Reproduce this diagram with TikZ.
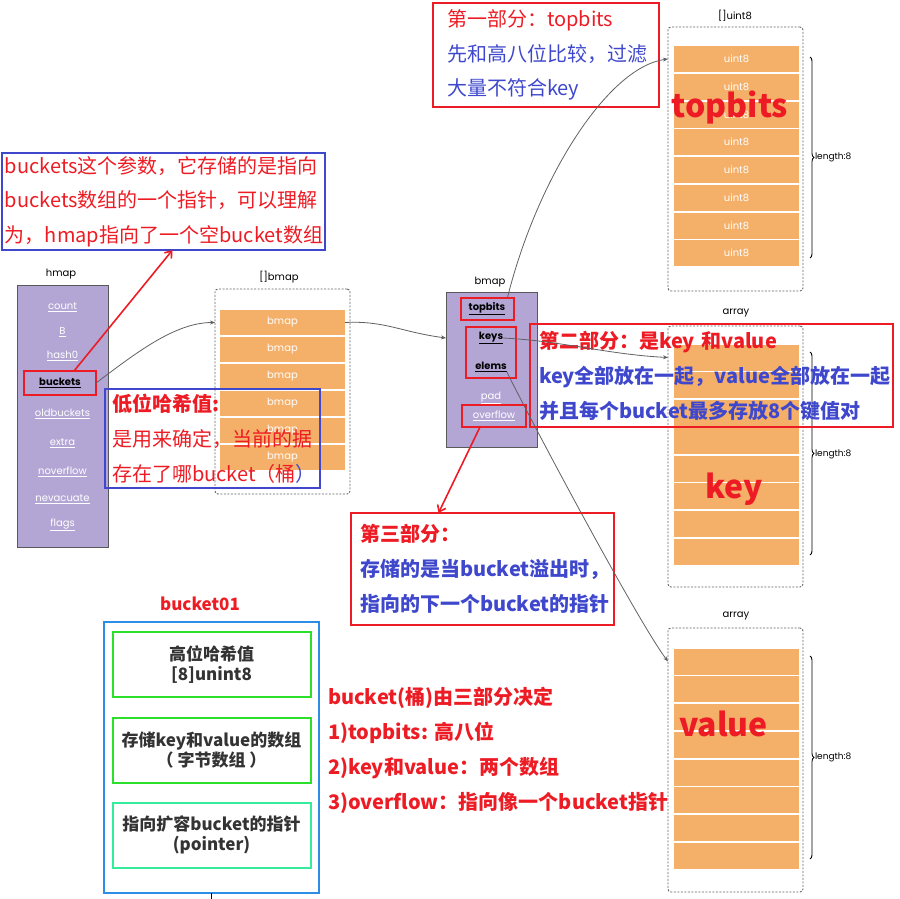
\documentclass[tikz,border=0pt]{standalone}
\usepackage{fontspec}
\setmainfont{Noto Sans CJK SC}
\newfontfamily\lblfont{Poppins}
\usetikzlibrary{arrows.meta,decorations.pathreplacing}
\definecolor{lav}{HTML}{B3A6D5}
\definecolor{ora}{HTML}{F4AF69}
\definecolor{hired}{HTML}{ED1C24}
\definecolor{hiblue}{HTML}{3F48CC}
\definecolor{skyblue}{HTML}{2C8DE4}
\definecolor{grn}{HTML}{2BE02B}
\definecolor{mint}{HTML}{33EC9C}
\definecolor{linkgray}{HTML}{606060}
\begin{document}
\begin{tikzpicture}[x=1pt, y=-1pt, every node/.style={inner sep=0pt, outer sep=0pt}]
	\tikzstyle{tag}=[font=\lblfont\fontsize{10}{12}\selectfont]
	\tikzstyle{box}=[draw=black!65, line width=0.8pt, fill=lav, minimum width=91pt, anchor=north west]
	\tikzstyle{field}=[font=\lblfont\fontsize{10}{12}\selectfont, text=white]
	\tikzstyle{bfield}=[font=\lblfont\bfseries\fontsize{10}{12}\selectfont, text=black]
	\tikzstyle{holder}=[draw=black!60, line width=0.9pt, dash pattern=on 2pt off 1.5pt, rounded corners=3pt, minimum width=135pt, anchor=north west]
	\tikzstyle{cell}=[fill=ora, minimum width=125pt, minimum height=26pt, text=white, font=\lblfont\fontsize{10}{12}\selectfont]
	\tikzstyle{hl}=[draw=hired, line width=2pt]
	\tikzstyle{big}=[text=hired, font=\bfseries\fontsize{32}{32}\selectfont]
	\tikzstyle{note}=[draw, line width=2pt, align=left, anchor=north west, font=\fontsize{20}{34.5}\selectfont]
	\tikzstyle{slot}=[line width=2pt, minimum width=198pt, minimum height=65pt, align=center, text=black!80, font=\bfseries\fontsize{17}{20}\selectfont]
	\tikzstyle{link}=[draw=linkgray, line width=0.8pt, -{Stealth[length=5pt,width=4pt]}]
	\tikzstyle{redlink}=[draw=hired, line width=1.6pt, -{Straight Barb[length=6pt,width=9pt]}]
	\useasboundingbox (0,0) rectangle (900,899);

	% hmap
	\node[tag] (hmaplbl) at (61,274) {hmap};
	\node[box, minimum height=262pt] (hmap) at (17,285) {};
	\node[field] (hcount) at (62.5,307) {\underline{count}};
	\node[field] (hb) at (62.5,332) {\underline{B}};
	\node[field] (hhash) at (62.5,356) {\underline{hash0}};
	\node[bfield, hl, minimum width=72pt, minimum height=24pt] (hbk) at (60,383) {\underline{buckets}};
	\node[field] (hold) at (62.5,414) {\underline{oldbuckets}};
	\node[field] (hextra) at (62.5,443) {\underline{extra}};
	\node[field] (hnover) at (62.5,472) {\underline{noverflow}};
	\node[field] (hnevac) at (62.5,499) {\underline{nevacuate}};
	\node[field] (hflags) at (62.5,525) {\underline{flags}};

	% []bmap
	\node[tag] (bholdlbl) at (279,277) {[]bmap};
	\node[holder, minimum height=205pt] (bhold) at (215,289) {};
	\foreach \i in {0,...,5}
		\node[cell, minimum height=25pt] (bm\i) at (282.5,322.5+27*\i) {bmap};

	% bmap
	\node[tag] (bmaplbl) at (490,282) {bmap};
	\node[box, minimum height=155pt] (bmap) at (446,292) {};
	\node[bfield, hl, minimum width=53pt, minimum height=22pt] (btop) at (487,308.5) {\underline{topbits}};
	\node[bfield] (bkeys) at (491,338) {\underline{keys}};
	\node[bfield] (belems) at (491,367) {\underline{elems}};
	\node[hl, minimum width=50pt, minimum height=51pt] (bke) at (491,352.5) {};
	\node[field] (bpad) at (491,398) {\underline{pad}};
	\node[field, hl, minimum width=64pt, minimum height=22pt] (bov) at (494,416) {\underline{overflow}};

	% []uint8, array, array
	\node[tag] (uholdlbl) at (735,16) {[]uint8};
	\node[holder, minimum height=264pt] (uhold) at (668,27) {};
	\node[tag] (kholdlbl) at (736,313) {array};
	\node[holder, minimum height=261pt] (khold) at (668,326) {};
	\node[tag] (vholdlbl) at (736,616) {array};
	\node[holder, minimum height=264pt] (vhold) at (668,628) {};
	\foreach \i in {0,...,7} {
		\node[cell] (u\i) at (736.5,59+27.75*\i) {uint8};
		\node[cell] (k\i) at (736.5,357.5+27.75*\i) {};
		\node[cell] (v\i) at (736.5,661.5+27.75*\i) {};
	}
	\draw[decorate, decoration={brace, amplitude=4pt}, line width=0.9pt] (810,57) -- (810,258);
	\node[tag, anchor=west, font=\lblfont\fontsize{9}{10}\selectfont] (ulen) at (815,157) {length:8};
	\draw[decorate, decoration={brace, amplitude=4pt}, line width=0.9pt] (810,352) -- (810,555);
	\node[tag, anchor=west, font=\lblfont\fontsize{9}{10}\selectfont] (klen) at (815,454) {length:8};
	\draw[decorate, decoration={brace, amplitude=4pt}, line width=0.9pt] (810,656) -- (810,859);
	\node[tag, anchor=west, font=\lblfont\fontsize{9}{10}\selectfont] (vlen) at (815,757) {length:8};
	\node[big] (toplbl) at (730,108) {topbits};
	\node[big] (keylbl) at (734,489) {key};
	\node[big] (vallbl) at (723.5,724) {value};

	% notes
	\node[note, draw=hiblue, text=hired, text width=317pt, inner xsep=3pt, minimum height=97pt] (n1) at (2,153)
		{buckets这个参数，它存储的是指向\\buckets数组的一个指针，可以理解\\为，hmap指向了一个空bucket数组};
	\node[note, draw=hiblue, text=hired, text width=201pt, inner xsep=7pt, minimum height=99pt, font=\fontsize{20}{35}\selectfont] (n3) at (105,389)
		{\textbf{低位哈希值:}\\是用来确定，当前的据\\存在了哪bucket（桶{\color{hiblue}）}};
	\node[note, draw=hired, text=hiblue, text width=198pt, inner xsep=14pt, minimum height=104pt] (n4) at (433,3)
		{{\color{hired}第一部分：topbits}\\先和高八位比较，过滤\\大量不符合key};
	\node[note, draw=hired, text=hiblue, text width=345pt, inner xsep=9pt, minimum height=103pt, font=\bfseries\fontsize{20}{35}\selectfont] (n5) at (530,324)
		{{\color{hired}第二部分：是key 和value}\\key全部放在一起，value全部放在一起\\并且每个bucket最多存放8个键值对};
	\node[note, draw=hired, text=hiblue, text width=245pt, inner xsep=9pt, minimum height=112pt, font=\bfseries\fontsize{20}{35}\selectfont] (n6) at (351,513)
		{{\color{hired}第三部分：}\\存储的是当bucket溢出时，\\指向的下一个bucket的指针};

	% bucket01
	\node[text=hired, font=\bfseries\fontsize{17}{18}\selectfont] (bktlbl) at (200,604) {bucket01};
	\node[draw=skyblue, line width=1.6pt, minimum width=215pt, minimum height=271pt, anchor=north west] (bkt) at (104,622) {};
	\node[slot, draw=grn] (s1) at (211.5,664.5) {高位哈希值\\{[8]unint8}};
	\node[slot, draw=grn] (s2) at (211.5,750) {存储key和value的数组\\（ 字节数组 ）};
	\node[slot, draw=mint] (s3) at (211.5,835) {指向扩容bucket的指针\\(pointer)};
	\draw[line width=1pt] (bkt.south) -- ++(0,6);
	\node[anchor=west, align=left, text=hired, font=\bfseries\fontsize{20}{35}\selectfont] (summ) at (328,750.5)
		{bucket(桶)由三部分决定\\1)topbits: 高八位\\2)key和value：两个数组\\3)overflow：指向像一个bucket指针};

	% connectors
	\draw[link] (hbk.east) .. controls +(40,-30) and +(-40,0) .. (bhold.west |- bm0);
	\draw[link] (bm0.east) .. controls +(40,-2) and +(-45,-6) .. (bmap.west |- bkeys);
	\draw[link] ([xshift=-6pt]btop.north east) .. controls +(30,-120) and +(-60,8) .. (uhold.west |- u0);
	\draw[link] (bkeys.east) .. controls +(60,3) and +(-60,-3) .. (khold.west |- k0);
	\draw[link] (belems.south east) .. controls +(30,60) and +(-30,-40) .. (vhold.west |- v0);
	\draw[redlink] ([xshift=14pt]hbk.north) -- ([xshift=9pt]n1.south);
	\draw[redlink] ([xshift=-14pt]bov.south) -- ([xshift=-44pt]n6.north);
\end{tikzpicture}
\end{document}
